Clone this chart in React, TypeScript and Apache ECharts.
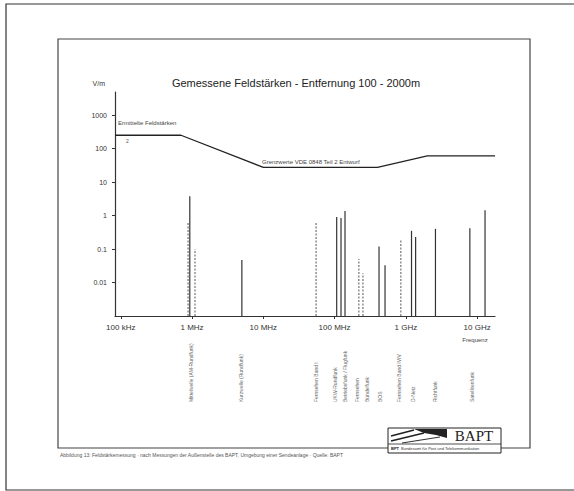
import React, { useEffect, useRef } from "react";
import * as echarts from "echarts";

const TITLE = "Gemessene Feldstärken - Entfernung 100 - 2000m";
const X_TICK_MHZ = [0.1, 1, 10, 100, 1000, 10000];
const X_TICK_LABELS = ["100 kHz", "1 MHz", "10 MHz", "100 MHz", "1 GHz", "10 GHz"];
const X_RANGE_MHZ = [0.083, 17800];
const Y_TICK_VM = [0.01, 0.1, 1, 10, 100, 1000];
const Y_TICK_LABELS = ["0.01", "0.1", "1", "10", "100", "1000"];
const Y_RANGE_VM = [0.001, 4900];

const LIMIT_FREQ_MHZ = [0.083, 0.7, 10, 400, 2000, 17800];
const LIMIT_VM = [250, 250, 27.5, 27.5, 61, 61];

const PEAK_FREQ_MHZ = [0.93, 5.0, 107, 123, 140, 420, 510, 1200, 1370, 2600, 7900, 12900];
const PEAK_VM = [3.8, 0.047, 0.9, 0.85, 1.36, 0.12, 0.033, 0.35, 0.23, 0.4, 0.42, 1.45];

const AUX_FREQ_MHZ = [0.88, 1.1, 55, 219, 250, 850];
const AUX_VM = [0.6, 0.1, 0.6, 0.05, 0.019, 0.19];

const BAND_FREQ_MHZ = [0.97, 4.9, 55, 101, 140, 206, 284, 433, 800, 1260, 2570, 8430];
const BAND_LABELS = [
  "Mittelwelle (AM-Rundfunk)",
  "Kurzwelle (Rundfunk)",
  "Fernsehen Band I",
  "UKW-Rundfunk",
  "Betriebsfunk / Flugfunk",
  "Fernsehen",
  "Bündelfunk",
  "BOS",
  "Fernsehen Band IV/V",
  "D-Netz",
  "Richtfunk",
  "Satellitenfunk",
];

const LIMIT_LABEL = "Grenzwerte VDE 0848 Teil 2 Entwurf";
const MEASURED_LABEL = "Ermittelte Feldstärken";
const X_NAME = "Frequenz";
const Y_NAME = "V/m";
const FOOTNOTE =
  "Abbildung 13: Feldstärkemessung · nach Messungen der Außenstelle des BAPT, Umgebung einer Sendeanlage · Quelle: BAPT";

const lg = (v: number) => Math.log10(v);
const FONT = "Liberation Sans, Arial, sans-serif";

function findLabel(v: number, ticks: number[], labels: string[]) {
  const i = ticks.findIndex((t) => Math.abs(lg(t) - v) < 1e-6);
  return i >= 0 ? labels[i] : "";
}

function stemSeries(name: string, freqs: number[], vals: number[], style: any) {
  return {
    name,
    type: "custom",
    data: freqs.map((f, i) => [lg(f), lg(vals[i])]),
    encode: { x: 0, y: 1 },
    renderItem: (params: any, api: any) => {
      const x = api.value(0);
      const y = api.value(1);
      const p0 = api.coord([x, lg(Y_RANGE_VM[0])]);
      const p1 = api.coord([x, y]);
      return {
        type: "line",
        shape: { x1: p0[0], y1: p0[1], x2: p1[0], y2: p1[1] },
        style,
      };
    },
    z: 3,
  };
}

export default function App() {
  const ref = useRef<HTMLDivElement>(null);
  useEffect(() => {
    if (!ref.current) return;
    const chart = echarts.init(ref.current, null, { renderer: "svg" });
    const xTicks = X_TICK_MHZ.map(lg);
    const yTicks = Y_TICK_VM.map(lg);
    chart.setOption({
      animation: false,
      backgroundColor: "#fff",
      textStyle: { fontFamily: FONT },
      grid: { left: 115, top: 92, width: 380, height: 224 },
      xAxis: {
        type: "value",
        min: lg(X_RANGE_MHZ[0]),
        max: lg(X_RANGE_MHZ[1]),
        splitLine: { show: false },
        axisLine: { onZero: false, lineStyle: { color: "#333", width: 1.2 } },
        axisTick: { customValues: xTicks, length: 3, lineStyle: { color: "#333" } },
        axisLabel: {
          customValues: xTicks,
          formatter: (v: number) => findLabel(v, X_TICK_MHZ, X_TICK_LABELS),
          fontSize: 8,
          color: "#333",
          fontFamily: FONT,
          margin: 7,
        },
      },
      yAxis: {
        type: "value",
        min: lg(Y_RANGE_VM[0]),
        max: lg(Y_RANGE_VM[1]),
        name: Y_NAME,
        nameGap: 5,
        nameTextStyle: { fontSize: 7, color: "#333", align: "right", padding: [0, 10, 0, 0] },
        splitLine: { show: false },
        axisLine: { show: true, onZero: false, lineStyle: { color: "#333", width: 1.2 } },
        axisTick: { show: true, customValues: yTicks, length: 3, lineStyle: { color: "#333" } },
        axisLabel: {
          customValues: yTicks,
          formatter: (v: number) => findLabel(v, Y_TICK_VM, Y_TICK_LABELS),
          fontSize: 7,
          color: "#333",
          fontFamily: FONT,
          margin: 8,
        },
      },
      series: [
        {
          name: "Grenzwert",
          type: "line",
          data: LIMIT_FREQ_MHZ.map((f, i) => [lg(f), lg(LIMIT_VM[i])]),
          symbol: "none",
          lineStyle: { color: "#222", width: 1.3 },
          z: 4,
        },
        stemSeries("Messwerte", PEAK_FREQ_MHZ, PEAK_VM, { stroke: "#333", lineWidth: 1.2 }),
        stemSeries("Messwerte (Einzel)", AUX_FREQ_MHZ, AUX_VM, {
          stroke: "#666",
          lineWidth: 1.1,
          lineDash: [2, 1.5],
        }),
        {
          name: "Dienste",
          type: "custom",
          clip: false,
          silent: true,
          data: BAND_FREQ_MHZ.map((f, i) => [lg(f), lg(Y_RANGE_VM[0]), i]),
          encode: { x: 0, y: 1 },
          renderItem: (params: any, api: any) => {
            const p = api.coord([api.value(0), api.value(1)]);
            const idx = api.value(2);
            return {
              type: "text",
              x: p[0],
              y: p[1] + 86,
              rotation: Math.PI / 2,
              style: {
                text: BAND_LABELS[idx],
                fontSize: 5,
                fontFamily: FONT,
                fill: "#666",
                align: "left",
                verticalAlign: "middle",
              },
            };
          },
        },
      ],
      graphic: [
        {
          type: "rect",
          shape: { x: 6, y: 4, width: 585, height: 486 },
          style: { fill: "none", stroke: "#333", lineWidth: 1.2 },
          z: 0,
        },
        {
          type: "rect",
          shape: { x: 58, y: 39, width: 472, height: 409 },
          style: { fill: "none", stroke: "#444", lineWidth: 1.2 },
          z: 0,
        },
        {
          type: "text",
          x: 296,
          y: 83,
          style: { text: TITLE, fontSize: 11, fontFamily: FONT, fill: "#222", align: "center", verticalAlign: "middle" },
        },
        {
          type: "text",
          x: 118,
          y: 123,
          style: { text: MEASURED_LABEL, fontSize: 6, fontFamily: FONT, fill: "#444", align: "left", verticalAlign: "middle" },
        },
        {
          type: "text",
          x: 126,
          y: 141,
          style: { text: "2", fontSize: 5, fontFamily: FONT, fill: "#555", align: "left", verticalAlign: "middle" },
        },
        {
          type: "text",
          x: 262,
          y: 162,
          style: { text: LIMIT_LABEL, fontSize: 6, fontFamily: FONT, fill: "#444", align: "left", verticalAlign: "middle" },
        },
        {
          type: "text",
          x: 475,
          y: 340,
          style: { text: X_NAME, fontSize: 6, fontFamily: FONT, fill: "#444", align: "center", verticalAlign: "middle" },
        },
        {
          type: "text",
          x: 60,
          y: 455,
          style: { text: FOOTNOTE, fontSize: 5, fontFamily: FONT, fill: "#555", align: "left", verticalAlign: "middle" },
        },
        {
          type: "group",
          children: [
            {
              type: "rect",
              shape: { x: 388, y: 428, width: 113, height: 25 },
              style: { fill: "#fff", stroke: "#222", lineWidth: 1 },
            },
            {
              type: "line",
              shape: { x1: 388, y1: 444, x2: 501, y2: 444 },
              style: { stroke: "#222", lineWidth: 0.8 },
            },
            {
              type: "polygon",
              shape: { points: [[414, 429], [447, 429], [447, 438], [436, 435], [424, 433]] },
              style: { fill: "#222" },
            },
            {
              type: "line",
              shape: { x1: 391, y1: 441, x2: 424, y2: 433 },
              style: { stroke: "#222", lineWidth: 1.6 },
            },
            {
              type: "line",
              shape: { x1: 391, y1: 436, x2: 414, y2: 430 },
              style: { stroke: "#222", lineWidth: 1.6 },
            },
            {
              type: "line",
              shape: { x1: 402, y1: 443, x2: 440, y2: 437 },
              style: { stroke: "#333", lineWidth: 1.2 },
            },
            {
              type: "text",
              x: 474,
              y: 436,
              style: { text: "BAPT", fontSize: 15, fontFamily: "Liberation Serif, serif", fill: "#222", align: "center", verticalAlign: "middle" },
            },
            {
              type: "text",
              x: 391,
              y: 448.5,
              style: { text: "BPT", fontSize: 4, fontWeight: "bold", fontFamily: FONT, fill: "#222", align: "left", verticalAlign: "middle" },
            },
            {
              type: "text",
              x: 401,
              y: 448.5,
              style: { text: "Bundesamt für Post und Telekommunikation", fontSize: 4, fontFamily: FONT, fill: "#333", align: "left", verticalAlign: "middle" },
            },
          ],
        },
      ],
    });
    return () => chart.dispose();
  }, []);
  return <div ref={ref} style={{ position: "fixed", left: 0, top: 0, width: 574, height: 491 }} />;
}
